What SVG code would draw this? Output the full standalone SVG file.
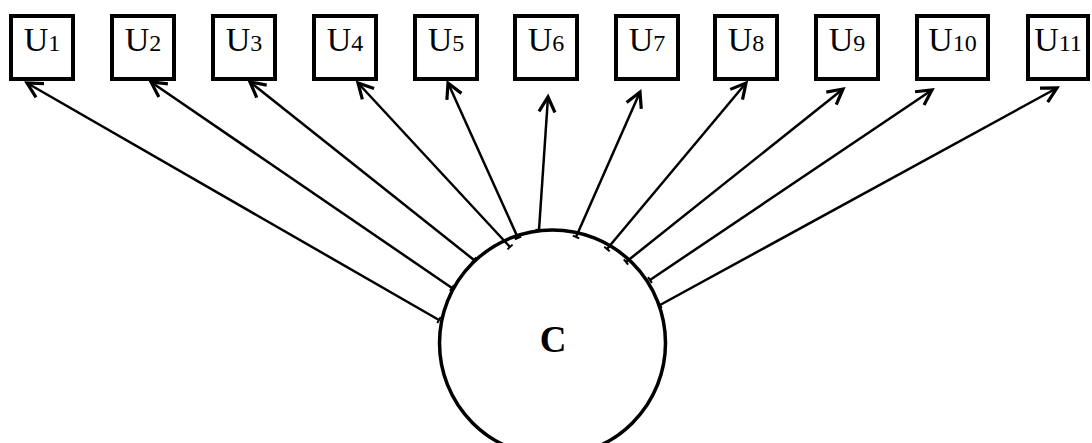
<svg xmlns="http://www.w3.org/2000/svg" width="1092" height="443" viewBox="0 0 1092 443">
<style>
.box{fill:#fff;stroke:#000;stroke-width:4}
.lbl{font-family:"Liberation Serif","Times New Roman",serif;font-size:34px;fill:#000;text-anchor:middle}
.sub{font-size:24px}
.con line{stroke:#000;stroke-width:2.5;marker-end:url(#ah);marker-start:url(#tk)}
.circ{fill:#fff;stroke:#000;stroke-width:3.5}
.c{font-family:"Liberation Serif","Times New Roman",serif;font-weight:bold;font-size:37px;text-anchor:middle;fill:#000}
</style>
<defs>
<marker id="ah" markerUnits="userSpaceOnUse" markerWidth="26" markerHeight="26" viewBox="-20 -13 26 26" refX="0" refY="0" orient="auto">
<path d="M-15,-8 L0,0 L-15,8" fill="none" stroke="#000" stroke-width="3.2"/>
</marker>
<marker id="tk" markerUnits="userSpaceOnUse" markerWidth="12" markerHeight="12" viewBox="-6 -6 12 12" refX="0" refY="0" orient="auto">
<path d="M0,-3.5 L0,3.5" stroke="#000" stroke-width="2"/>
</marker>
</defs>
<g id="C">
<circle class="circ" cx="552.5" cy="343" r="113"/>
<text class="c" x="553" y="352">C</text>
</g>
<g id="connectors" class="con">
<line x1="439" y1="320" x2="27" y2="83"/>
<line x1="452" y1="288" x2="151" y2="82"/>
<line x1="474" y1="260" x2="250" y2="82"/>
<line x1="510" y1="247" x2="358" y2="83"/>
<line x1="518" y1="238" x2="448" y2="83"/>
<line x1="539" y1="230" x2="548" y2="97"/>
<line x1="576" y1="237" x2="640" y2="92"/>
<line x1="607" y1="249" x2="746" y2="83"/>
<line x1="626" y1="262" x2="843" y2="89"/>
<line x1="650" y1="280" x2="932" y2="90"/>
<line x1="660" y1="305" x2="1057" y2="88"/>
</g>
<g id="U1"><rect class="box" x="11" y="16" width="62" height="63"/><text class="lbl" x="42" y="51">U<tspan class="sub">1</tspan></text></g>
<g id="U2"><rect class="box" x="112" y="16" width="62" height="63"/><text class="lbl" x="143" y="51">U<tspan class="sub">2</tspan></text></g>
<g id="U3"><rect class="box" x="213" y="16" width="62" height="63"/><text class="lbl" x="244" y="51">U<tspan class="sub">3</tspan></text></g>
<g id="U4"><rect class="box" x="314" y="16" width="62" height="63"/><text class="lbl" x="345" y="51">U<tspan class="sub">4</tspan></text></g>
<g id="U5"><rect class="box" x="415" y="16" width="62" height="63"/><text class="lbl" x="446" y="51">U<tspan class="sub">5</tspan></text></g>
<g id="U6"><rect class="box" x="515" y="16" width="62" height="63"/><text class="lbl" x="546" y="51">U<tspan class="sub">6</tspan></text></g>
<g id="U7"><rect class="box" x="616" y="16" width="62" height="63"/><text class="lbl" x="647" y="51">U<tspan class="sub">7</tspan></text></g>
<g id="U8"><rect class="box" x="715" y="16" width="62" height="63"/><text class="lbl" x="746" y="51">U<tspan class="sub">8</tspan></text></g>
<g id="U9"><rect class="box" x="816" y="16" width="62" height="63"/><text class="lbl" x="847" y="51">U<tspan class="sub">9</tspan></text></g>
<g id="U10"><rect class="box" x="917" y="16" width="71" height="63"/><text class="lbl" x="952.5" y="51">U<tspan class="sub">10</tspan></text></g>
<g id="U11"><rect class="box" x="1028" y="16" width="60" height="63"/><text class="lbl" x="1058" y="51">U<tspan class="sub">11</tspan></text></g>
</svg>
